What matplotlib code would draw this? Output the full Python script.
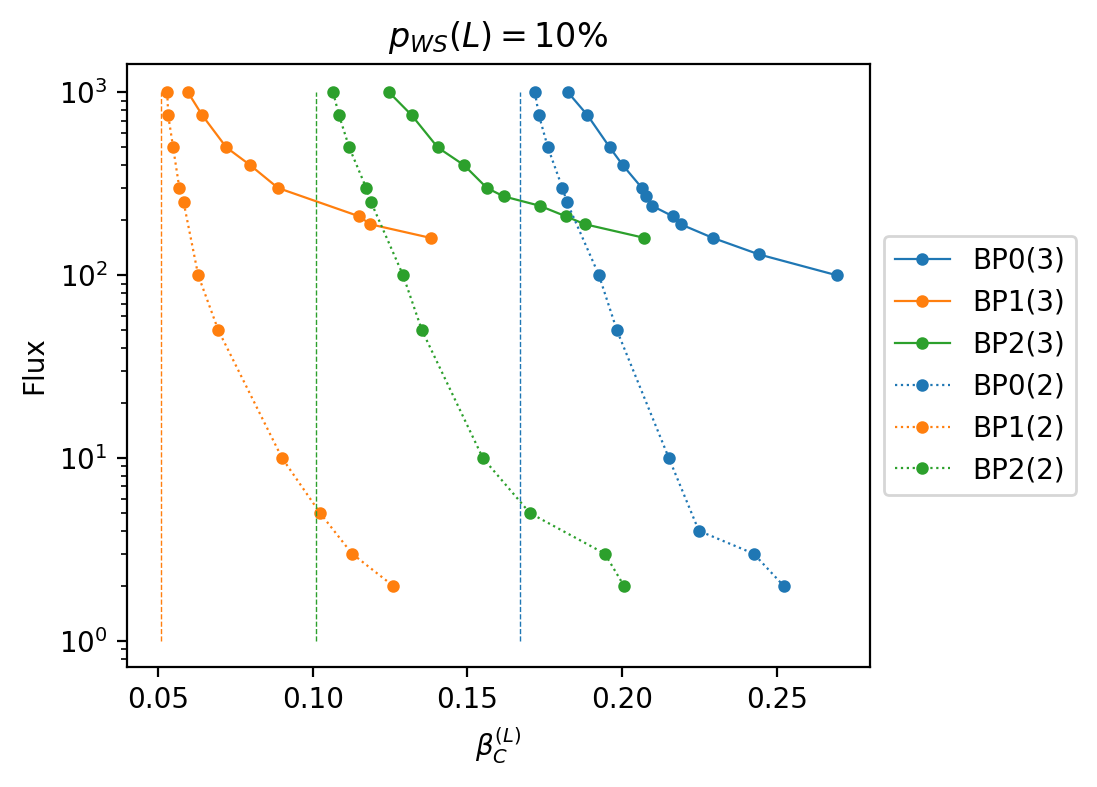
import numpy as np
import matplotlib
matplotlib.use("Agg")
import matplotlib.pyplot as plt

# flux levels and critical beta values
flux_bp0_3 = [1000, 750, 500, 400, 300, 270, 240, 210, 190, 160, 130, 100]
beta_bp0_3 = [0.1825, 0.1888, 0.1960, 0.2002, 0.2064, 0.2077, 0.2096, 0.2164, 0.2189, 0.2293, 0.2442, 0.2693]

flux_bp1_3 = [1000, 750, 500, 400, 300, 210, 190, 160]
beta_bp1_3 = [0.0597, 0.0643, 0.0721, 0.0798, 0.0888, 0.1150, 0.1186, 0.1381]

flux_bp2_3 = [1000, 750, 500, 400, 300, 270, 240, 210, 190, 160]
beta_bp2_3 = [0.1247, 0.1320, 0.1404, 0.1489, 0.1563, 0.1617, 0.1733, 0.1818, 0.1880, 0.2072]

flux_bp0_2 = [1000, 750, 500, 300, 250, 100, 50, 10, 4, 3, 2]
beta_bp0_2 = [0.1718, 0.1731, 0.1760, 0.1807, 0.1822, 0.1925, 0.1983, 0.2151, 0.2248, 0.2425, 0.2522]

flux_bp1_2 = [1000, 750, 500, 300, 250, 100, 50, 10, 5, 3, 2]
beta_bp1_2 = [0.0530, 0.0533, 0.0549, 0.0569, 0.0583, 0.0630, 0.0695, 0.0901, 0.1024, 0.1127, 0.1260]

flux_bp2_2 = [1000, 750, 500, 300, 250, 100, 50, 10, 5, 3, 2]
beta_bp2_2 = [0.1066, 0.1085, 0.1118, 0.1173, 0.1189, 0.1292, 0.1353, 0.1550, 0.1702, 0.1944, 0.2006]

# asymptotic beta values (dashed verticals)
beta_limits = [0.167, 0.051, 0.101]

colors = ["C0", "C1", "C2"]

fig = plt.figure(figsize=(1097 / 200, 787 / 200), dpi=200)
ax = fig.add_axes([0.1158, 0.1525, 0.677, 0.7662])

ax.plot(beta_bp0_3, flux_bp0_3, "-o", color="C0", lw=0.8, ms=3.5, label="BP0(3)")
ax.plot(beta_bp1_3, flux_bp1_3, "-o", color="C1", lw=0.8, ms=3.5, label="BP1(3)")
ax.plot(beta_bp2_3, flux_bp2_3, "-o", color="C2", lw=0.8, ms=3.5, label="BP2(3)")
ax.plot(beta_bp0_2, flux_bp0_2, ":o", color="C0", lw=0.8, ms=3.5, label="BP0(2)")
ax.plot(beta_bp1_2, flux_bp1_2, ":o", color="C1", lw=0.8, ms=3.5, label="BP1(2)")
ax.plot(beta_bp2_2, flux_bp2_2, ":o", color="C2", lw=0.8, ms=3.5, label="BP2(2)")

for b, c in zip(beta_limits, colors):
    ax.plot([b, b], [1, 1000], "--", color=c, lw=0.5)

ax.set_yscale("log")
ax.set_xlim(0.04, 0.28)
ax.set_ylim(0.72, 1430)
ax.set_xticks([0.05, 0.10, 0.15, 0.20, 0.25])
ax.set_xlabel(r"$\beta_C^{(L)}$")
ax.set_ylabel("Flux")
ax.set_title(r"$p_{WS}(L) = 10\%$")
ax.legend(loc="center left", bbox_to_anchor=(1, 0.5))

fig.savefig("out.png", dpi=200)
